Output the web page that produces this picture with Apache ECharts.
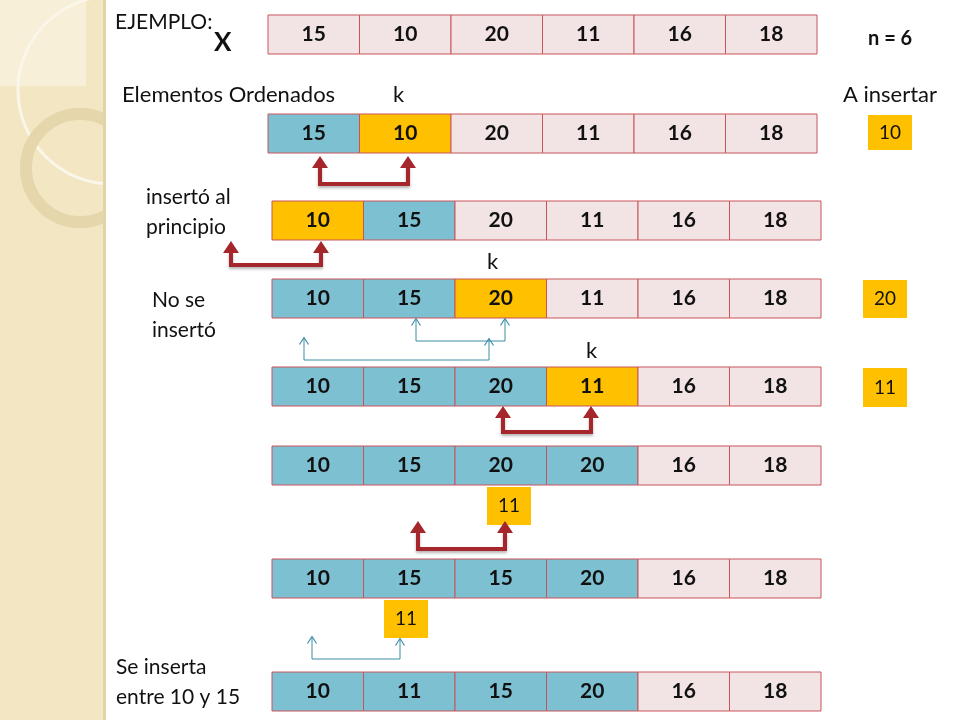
<!DOCTYPE html>
<html><head><meta charset="utf-8">
<script src="https://cdn.jsdelivr.net/npm/echarts@6/dist/echarts.min.js"></script>
<style>html,body{margin:0;background:#fff}#c{width:960px;height:720px}</style>
</head><body><div id="c"></div>
<script>
// valores de cada fila
const rows = [
  [15, 10, 20, 11, 16, 18],
  [15, 10, 20, 11, 16, 18],
  [10, 15, 20, 11, 16, 18],
  [10, 15, 20, 11, 16, 18],
  [10, 15, 20, 11, 16, 18],
  [10, 15, 20, 20, 16, 18],
  [10, 15, 15, 20, 16, 18],
  [10, 11, 15, 20, 16, 18]
];
// estado: p = sin ordenar, b = ordenado, y = k
const states = [
  'pppppp', 'bypppp', 'ybpppp', 'bbyppp', 'bbbypp', 'bbbbpp', 'bbbbpp', 'bbbbpp'
];
const rowTop = [15, 114, 201, 279, 367, 446, 559, 672];
const rowLeft = [268, 268, 272, 272, 272, 272, 272, 272];
const cellW = 91.5, cellH = 39;
// cajas "a insertar": [valor, x, y, w, h]
const pending = [[10, 868, 115, 44, 35], [20, 863, 280, 44, 38], [11, 863, 368, 44, 39], [11, 487, 487, 44, 38], [11, 384, 600, 44, 38]];
const redArrows = [
  [[320, 166], [320, 184], [408, 184], [408, 166]],
  [[231, 251], [231, 265], [321, 265], [321, 251]],
  [[503, 416], [503, 432], [591, 432], [591, 416]],
  [[418, 531], [418, 549], [505, 549], [505, 531]]
];
const blueArrows = [
  [[416, 319], [416, 341], [505, 341], [505, 319]],
  [[304, 338], [304, 360], [489, 360], [489, 339]],
  [[312, 637], [312, 659], [400, 659], [400, 639]]
];

const fill = { p: '#f2e4e4', b: '#7cc0d2', y: '#ffc000' };
const cells = [];
rows.forEach((r, i) => r.forEach((v, j) => {
  cells.push([rowLeft[i] + j * cellW, rowTop[i], cellW, cellH, v, fill[states[i][j]], 0]);
}));
pending.forEach(p => cells.push([p[1], p[2], p[3], p[4], p[0], '#ffc000', 1]));

const tips = (list) => {
  const out = [];
  list.forEach(c => { out.push(c[0]); out.push(c[c.length - 1]); });
  return out;
};

const font = 'Lato, "Open Sans", sans-serif';
const txt = (x, y, s, size, weight) => ({ type: 'text', left: x, top: y, style: { text: s, font: (weight || 'normal') + ' ' + size + 'px ' + font, fill: '#111', lineHeight: 30 } });

const chart = echarts.init(document.getElementById('c'));
chart.setOption({
  animation: false,
  grid: { left: 0, top: 0, right: 0, bottom: 0 },
  xAxis: { type: 'value', min: 0, max: 960, show: false },
  yAxis: { type: 'value', min: 0, max: 720, inverse: true, show: false },
  graphic: [
    { type: 'rect', shape: { x: 0, y: 0, width: 105, height: 720 }, style: { fill: '#f3e6c3' }, z: -10 },
    { type: 'rect', shape: { x: 0, y: 0, width: 86, height: 86 }, style: { fill: '#f7efd8' }, z: -9 },
    { type: 'circle', shape: { cx: 112, cy: 90, r: 94 }, style: { fill: 'none', stroke: '#fbf6ea', lineWidth: 3 }, z: -8 },
    { type: 'circle', shape: { cx: 80, cy: 168, r: 54 }, style: { fill: 'none', stroke: '#e5d6ab', lineWidth: 12 }, z: -8 },
    { type: 'rect', shape: { x: 106, y: 0, width: 854, height: 720 }, style: { fill: '#fff' }, z: -7 },
    { type: 'rect', shape: { x: 103, y: 0, width: 3, height: 720 }, style: { fill: '#e2d3a8' }, z: -6 },
    txt(115, 7, 'EJEMPLO:', 21),
    txt(214, 28, 'X', 26, 'bold'),
    txt(868, 24, 'n = 6', 20, 'bold'),
    txt(122, 80, 'Elementos Ordenados', 22),
    txt(393, 80, 'k', 22),
    txt(843, 80, 'A insertar', 22),
    txt(146, 182, 'insertó al\nprincipio', 21),
    txt(487, 247, 'k', 22),
    txt(152, 285, 'No se\ninsertó', 21),
    txt(586, 336, 'k', 22),
    txt(116, 652, 'Se inserta\nentre 10 y 15', 21)
  ],
  series: [
    {
      type: 'custom',
      coordinateSystem: 'cartesian2d',
      data: cells,
      renderItem: (params, api) => {
        const p = api.coord([api.value(0), api.value(1)]);
        const small = api.value(6) === 1;
        return {
          type: 'rect',
          shape: { x: p[0], y: p[1], width: api.value(2), height: api.value(3) },
          style: { fill: api.value(5), stroke: small ? 'none' : '#c8545a', lineWidth: 1 },
          textContent: {
            style: {
              text: String(api.value(4)), fill: '#111',
              font: (small ? 'normal 19px ' : 'bold 21px ') + font
            }
          },
          textConfig: { position: 'inside' }
        };
      }
    },
    {
      type: 'lines', coordinateSystem: 'cartesian2d', polyline: true,
      lineStyle: { color: '#a5262b', width: 4, opacity: 1, shadowColor: 'rgba(0,0,0,0.3)', shadowBlur: 3, shadowOffsetY: 2 },
      data: redArrows.map(c => ({ coords: c }))
    },
    {
      type: 'scatter', symbol: 'triangle', symbolSize: [16, 12], symbolOffset: [0, -4],
      itemStyle: { color: '#a5262b', opacity: 1 },
      data: tips(redArrows)
    },
    {
      type: 'lines', coordinateSystem: 'cartesian2d', polyline: true,
      lineStyle: { color: '#3a8fa6', width: 1, opacity: 1 },
      data: blueArrows.map(c => ({ coords: c }))
    },
    {
      type: 'scatter', symbol: 'path://M0,10 L5,0 L10,10', symbolSize: [9, 7], symbolOffset: [0, 3],
      itemStyle: { color: 'none', borderColor: '#3a8fa6', borderWidth: 1, opacity: 1 },
      data: tips(blueArrows)
    }
  ]
});
</script></body></html>
